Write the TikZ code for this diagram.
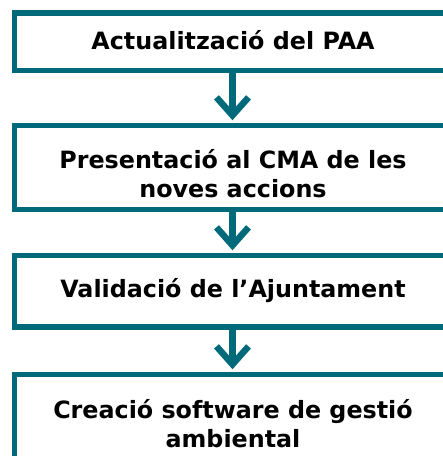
\documentclass[tikz,border=0pt]{standalone}
\usepackage{fontspec}
\setmainfont{DejaVu Sans}
\usetikzlibrary{arrows.meta}
\definecolor{teal1}{RGB}{0,106,122}
\tikzset{
  boxnode/.style={draw=teal1, line width=5.5pt, minimum width=437.5pt, inner sep=0pt, fill=none},
  txt/.style={anchor=base, inner sep=0pt, font=\bfseries\fontsize{23.8}{29}\selectfont},
  flow/.style={draw=teal1, line width=6.5pt, -{Straight Barb[length=18pt, width=32pt]}, shorten >=2.5pt}
}
\begin{document}
\begin{tikzpicture}[x=1pt, y=-1pt]
\useasboundingbox (0,0) rectangle (443,456);
\clip (0,0) rectangle (443,456);
\node[boxnode, minimum height=57.5pt] (b1) at (233.25,41.75) {};
\node[boxnode, minimum height=84pt] (b2) at (233.25,167.5) {};
\node[boxnode, minimum height=71.5pt] (b3) at (233.25,291.25) {};
\node[boxnode, minimum height=110pt] (b4) at (233.25,429.5) {};
\node[txt] (t1) at (233,49) {Actualització del PAA};
\node[txt] (t2a) at (233,168) {Presentació al CMA de les};
\node[txt] (t2b) at (233,197) {noves accions};
\node[txt] (t3) at (233,297) {Validació de l’Ajuntament};
\node[txt] (t4a) at (233,418) {Creació software de gestió};
\node[txt] (t4b) at (233,447) {ambiental};
\draw[flow] (b1.south -| 232.5,0) -- (b2.north -| 232.5,0);
\draw[flow] (b2.south -| 232.5,0) -- (b3.north -| 232.5,0);
\draw[flow] (b3.south -| 232.5,0) -- (b4.north -| 232.5,0);
\end{tikzpicture}
\end{document}
